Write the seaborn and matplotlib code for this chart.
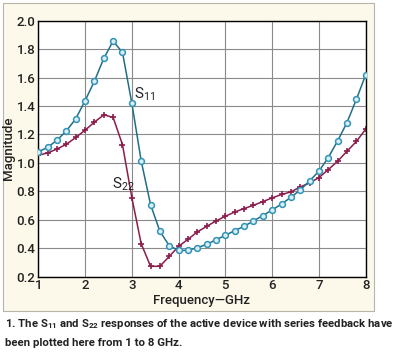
import pandas as pd
import seaborn as sns
import matplotlib.pyplot as plt

# frequency points, GHz (every 0.2 GHz from 1 to 8)
freq = [1.0, 1.2, 1.4, 1.6, 1.8, 2.0, 2.2, 2.4, 2.6, 2.8, 3.0, 3.2,
        3.4, 3.6, 3.8, 4.0, 4.2, 4.4, 4.6, 4.8, 5.0, 5.2, 5.4, 5.6,
        5.8, 6.0, 6.2, 6.4, 6.6, 6.8, 7.0, 7.2, 7.4, 7.6, 7.8, 8.0]

s11 = [1.077, 1.11, 1.16, 1.225, 1.31, 1.437, 1.575, 1.735, 1.857, 1.777, 1.42, 1.014,
       0.707, 0.519, 0.418, 0.385, 0.385, 0.404, 0.427, 0.46, 0.491, 0.524, 0.554, 0.592,
       0.63, 0.669, 0.711, 0.758, 0.81, 0.873, 0.942, 1.038, 1.155, 1.284, 1.446, 1.62]

s22 = [1.054, 1.07, 1.098, 1.131, 1.179, 1.23, 1.287, 1.338, 1.32, 1.128, 0.756, 0.432,
       0.273, 0.273, 0.343, 0.413, 0.463, 0.515, 0.554, 0.592, 0.625, 0.655, 0.679, 0.702,
       0.728, 0.754, 0.778, 0.796, 0.831, 0.859, 0.897, 0.953, 1.012, 1.082, 1.151, 1.237]

x_ticks = [1, 2, 3, 4, 5, 6, 7, 8]
y_ticks = [0.2, 0.4, 0.6, 0.8, 1.0, 1.2, 1.4, 1.6, 1.8, 2.0]

df = pd.DataFrame({'freq': freq, 'S11': s11, 'S22': s22})

sns.set_theme(style='white')
plt.rcParams['font.family'] = ['Roboto', 'DejaVu Sans']
plt.rcParams['mathtext.default'] = 'regular'

fig = plt.figure(figsize=(3.94, 3.58), dpi=100)
fig.patch.set_facecolor('white')

# cream panel behind the chart
panel = plt.Rectangle((3 / 394, 1 - 311 / 358), 371 / 394, 308 / 358,
                      transform=fig.transFigure, facecolor='#fcf8ea',
                      edgecolor='#b8b4a8', linewidth=0.8, zorder=-5)
fig.patches.append(panel)

ax = fig.add_axes([38.3 / 394, 1 - 276.7 / 358, 327.4 / 394, 256 / 358])
ax.set_zorder(2)
ax.set_facecolor('white')

sns.lineplot(data=df, x='freq', y='S11', ax=ax, color='#1f6f88', linewidth=1.1,
             marker='o', markersize=4.2, markerfacecolor='#d9eef5',
             markeredgecolor='#3293b8', markeredgewidth=1.1, zorder=3)
sns.lineplot(data=df, x='freq', y='S22', ax=ax, color='#8c1c4c', linewidth=1.1,
             marker='+', markersize=5, markeredgecolor='#8c1c4c',
             markeredgewidth=1.2, zorder=2)

ax.set_xlim(1, 8)
ax.set_ylim(0.2, 2.0)
ax.set_xticks(x_ticks)
ax.set_yticks(y_ticks)
ax.set_yticklabels([f'{v:.1f}' for v in y_ticks])
ax.grid(True, color='#8a8a8a', linewidth=0.8)
for sp in ax.spines.values():
    sp.set_color('black')
    sp.set_linewidth(1.0)
ax.tick_params(axis='both', length=0, pad=2, labelsize=9.5, colors='#222222')
for lab in ax.get_xticklabels() + ax.get_yticklabels():
    lab.set_fontweight('medium')

ax.set_xlabel('Frequency\u2014GHz', fontsize=9.5, fontweight='medium', labelpad=1, color='#222222')
ax.set_ylabel('Magnitude', fontsize=9.5, fontweight='medium', color='#222222')
ax.yaxis.set_label_coords(-0.072, 0.5)

ax.text(3.05, 1.45, r'S$_{11}$', fontsize=11, color='#222222')
ax.text(2.58, 0.82, r'S$_{22}$', fontsize=11, color='#222222')

fig.text(5 / 394, 1 - 324 / 358,
         r'1. The S$_{11}$ and S$_{22}$ responses of the active device with series feedback have',
         fontsize=8.2, fontweight='bold', color='#222222', va='center')
fig.text(5 / 394, 1 - 343 / 358, 'been plotted here from 1 to 8 GHz.',
         fontsize=8.2, fontweight='bold', color='#222222', va='center')

fig.savefig('out.png', dpi=100)
